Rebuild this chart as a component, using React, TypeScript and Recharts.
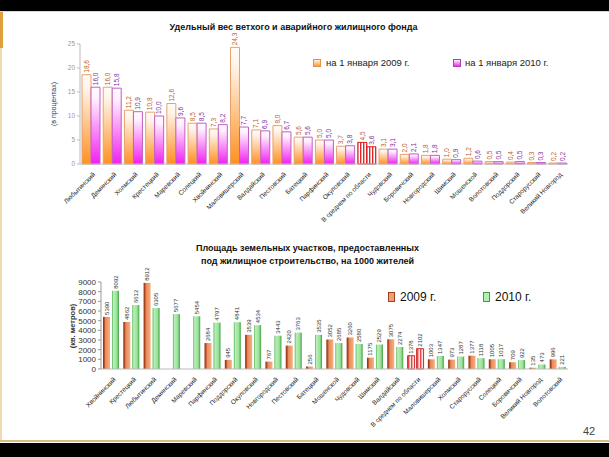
import React from 'react';
import { BarChart, Bar, XAxis, YAxis, Cell, LabelList } from 'recharts';

// chart 1: share of dilapidated housing, %
const districts1 = [
  'Любытинский', 'Демянский', 'Холмский', 'Крестецкий', 'Маревский', 'Солецкий',
  'Хвойнинский', 'Маловишерский', 'Валдайский', 'Пестовский', 'Батецкий', 'Парфинский',
  'Окуловский', 'В среднем по области', 'Чудовский', 'Боровичский', 'Новгородский',
  'Шимский', 'Мошенской', 'Волотовский', 'Поддорский', 'Старорусский', 'Великий Новгород',
];
const share2009 = [18.6, 16.0, 11.2, 10.8, 12.6, 8.5, 7.3, 24.3, 7.1, 8.0, 5.6, 5.0, 3.7, 4.5, 3.1, 2.0, 1.8, 1.0, 1.2, 0.5, 0.4, 0.3, 0.2];
const share2010 = [16.0, 15.8, 10.9, 10.0, 9.6, 8.5, 8.2, 7.7, 6.9, 6.7, 5.6, 5.0, 3.8, 3.6, 3.1, 2.1, 1.8, 0.9, 0.6, 0.5, 0.5, 0.3, 0.2];
const shareTicks = [0, 5, 10, 15, 20, 25];

// chart 2: land plots for housing, sq. m per 1000 residents
const districts2 = [
  'Хвойнинский', 'Крестецкий', 'Любытинский', 'Демянский', 'Маревский', 'Парфинский',
  'Поддорский', 'Окуловский', 'Новгородский', 'Пестовский', 'Батецкий', 'Мошенской',
  'Чудовский', 'Шимский', 'Валдайский', 'В среднем по области', 'Маловишерский',
  'Холмский', 'Старорусский', 'Солецкий', 'Боровичский', 'Великий Новгород', 'Волотовский',
];
const area2009 = [5390, 4862, 8912, 0, 0, 2684, 945, 3539, 767, 2420, 256, 3052, 3260, 1175, 3075, 1378, 1003, 973, 1377, 1005, 709, 135, 996];
const area2010 = [8092, 6612, 6305, 5677, 5454, 4797, 4841, 4534, 3443, 3763, 3535, 2685, 2580, 2529, 2274, 2102, 1347, 1287, 1118, 1017, 922, 473, 221];
const areaTicks = [0, 1000, 2000, 3000, 4000, 5000, 6000, 7000, 8000, 9000];

const AVG = 'В среднем по области';
const FONT = '"Liberation Sans", Arial, sans-serif';

const data1 = districts1.map((name, i) => ({ name, y2009: share2009[i], y2010: share2010[i] }));
const data2 = districts2.map((name, i) => ({ name, y2009: area2009[i], y2010: area2010[i] }));

const fmtComma = (v: number) => v.toFixed(1).replace('.', ',');

function XTick({ x, y, payload, size }: any) {
  return (
    <text
      transform={`translate(${x + 5},${y + 3}) rotate(-45)`}
      textAnchor="end"
      fontSize={size}
      fill="#222"
      fontFamily={FONT}
    >
      {payload.value}
    </text>
  );
}

function vertLabel(color: string, fmt: (v: number) => string, size: number) {
  return (props: any) => {
    const { x, y, width, value } = props;
    return (
      <text
        transform={`translate(${x + width / 2 + size / 2 - 1},${y - 2}) rotate(-90)`}
        fontSize={size}
        fill={color}
        fontFamily={FONT}
      >
        {fmt(value)}
      </text>
    );
  };
}

export default function App() {
  return (
    <div style={{ position: 'absolute', left: 0, top: 0, width: 609, height: 457, background: '#fff', overflow: 'hidden', fontFamily: FONT }}>
      {/* slide frame */}
      <div style={{ position: 'absolute', left: 0, top: 0, width: 609, height: 11, background: '#000' }} />
      <div style={{ position: 'absolute', left: 0, top: 11, width: 609, height: 1, background: '#e8d9a8' }} />
      <div style={{ position: 'absolute', left: 0, top: 11, width: 2, height: 430, background: '#eadcae' }} />
      <div style={{ position: 'absolute', left: 0, top: 12, width: 3, height: 36, background: '#e0a040' }} />
      <div style={{ position: 'absolute', left: 0, top: 440, width: 609, height: 2, background: '#d8c080' }} />
      <div style={{ position: 'absolute', left: 0, top: 443, width: 609, height: 14, background: '#000' }} />
      <div style={{ position: 'absolute', left: 583, top: 425, fontSize: 11, color: '#444' }}>42</div>

      {/* chart 1 */}
      <div style={{ position: 'absolute', left: 0, top: 22, width: 609, textAlign: 'center', paddingRight: 22, boxSizing: 'border-box', fontSize: 9, fontWeight: 'bold', color: '#111' }}>
        Удельный вес ветхого и аварийного жилищного фонда
      </div>
      <div style={{ position: 'absolute', left: 313, top: 57, fontSize: 9.5, color: '#222', display: 'flex', alignItems: 'center' }}>
        <span style={{ display: 'inline-block', width: 6, height: 6, marginRight: 5, border: '1px solid #e09050', background: 'linear-gradient(#fff4e8, #ff9a30)' }} />
        на 1 января 2009 г.
      </div>
      <div style={{ position: 'absolute', left: 453, top: 57, fontSize: 9.5, color: '#222', display: 'flex', alignItems: 'center' }}>
        <span style={{ display: 'inline-block', width: 6, height: 6, marginRight: 4, border: '1px solid #b040b0', background: 'linear-gradient(#fff0ff, #f030f0)' }} />
        на 1 января 2010 г.
      </div>
      <div style={{ position: 'absolute', left: 53, top: 104, transform: 'translate(-50%,-50%) rotate(-90deg)', fontSize: 7, color: '#333', whiteSpace: 'nowrap' }}>
        (в процентах)
      </div>
      <div style={{ position: 'absolute', left: 0, top: 0 }}>
        <BarChart width={609} height={240} data={data1} margin={{ top: 44, right: 41, left: 0, bottom: 0 }} barGap={0} barSize={9}>
          <defs>
            <linearGradient id="g09" x1="0" y1="0" x2="0" y2="1">
              <stop offset="0%" stopColor="#fffcf8" />
              <stop offset="15%" stopColor="#fff4ea" />
              <stop offset="100%" stopColor="#ff9020" />
            </linearGradient>
            <linearGradient id="g10" x1="0" y1="0" x2="0" y2="1">
              <stop offset="0%" stopColor="#fffaff" />
              <stop offset="15%" stopColor="#fff0ff" />
              <stop offset="100%" stopColor="#f020f0" />
            </linearGradient>
            <pattern id="stripe1" width="3" height="4" patternUnits="userSpaceOnUse">
              <rect width="3" height="4" fill="#fff" />
              <rect width="1.4" height="4" fill="#e02828" />
            </pattern>
          </defs>
          <XAxis
            dataKey="name"
            interval={0}
            height={76}
            tick={<XTick size={6.5} />}
            tickLine={false}
            axisLine={{ stroke: '#bbb' }}
          />
          <YAxis
            width={80}
            domain={[0, 25]}
            ticks={shareTicks}
            tick={{ fontSize: 6.5, fill: '#999' }}
            tickSize={3}
            tickLine={{ stroke: '#bbb' }}
            axisLine={{ stroke: '#bbb' }}
          />
          <Bar dataKey="y2009" fill="url(#g09)" stroke="#e8a070" isAnimationActive={false}>
            {data1.map((d, i) => (
              <Cell key={i} fill={d.name === AVG ? 'url(#stripe1)' : 'url(#g09)'} stroke={d.name === AVG ? '#d02020' : '#e8a070'} />
            ))}
            <LabelList dataKey="y2009" content={vertLabel('#c0602a', fmtComma, 6.5)} />
          </Bar>
          <Bar dataKey="y2010" fill="url(#g10)" stroke="#c060c0" isAnimationActive={false}>
            {data1.map((d, i) => (
              <Cell key={i} fill={d.name === AVG ? 'url(#stripe1)' : 'url(#g10)'} stroke={d.name === AVG ? '#d02020' : '#c060c0'} />
            ))}
            <LabelList dataKey="y2010" content={vertLabel('#8030a0', fmtComma, 6.5)} />
          </Bar>
        </BarChart>
      </div>

      {/* chart 2 */}
      <div style={{ position: 'absolute', left: 0, top: 242, width: 609, textAlign: 'center', paddingLeft: 6, boxSizing: 'border-box', fontSize: 9, fontWeight: 'bold', color: '#111', lineHeight: '13px' }}>
        Площадь земельных участков, предоставленных
        <br />
        под жилищное строительство, на 1000 жителей
      </div>
      <div style={{ position: 'absolute', left: 388, top: 290, fontSize: 12, color: '#111', display: 'flex', alignItems: 'center' }}>
        <span style={{ display: 'inline-block', width: 5, height: 8, marginRight: 5, border: '1px solid #a04020', background: '#f0a070' }} />
        2009 г.
      </div>
      <div style={{ position: 'absolute', left: 483, top: 290, fontSize: 12, color: '#111', display: 'flex', alignItems: 'center' }}>
        <span style={{ display: 'inline-block', width: 5, height: 8, marginRight: 5, border: '1px solid #40a040', background: '#b0f0b0' }} />
        2010 г.
      </div>
      <div style={{ position: 'absolute', left: 72, top: 326, transform: 'translate(-50%,-50%) rotate(-90deg)', fontSize: 7.5, fontWeight: 'bold', color: '#333', whiteSpace: 'nowrap' }}>
        (кв. метров)
      </div>
      <div style={{ position: 'absolute', left: 0, top: 240 }}>
        <BarChart width={609} height={205} data={data2} margin={{ top: 42, right: 41, left: 0, bottom: 0 }} barGap={2} barSize={7}>
          <defs>
            <linearGradient id="o09" x1="0" y1="0" x2="1" y2="0">
              <stop offset="0%" stopColor="#8a2a10" />
              <stop offset="25%" stopColor="#c85a30" />
              <stop offset="35%" stopColor="#e88a5a" />
              <stop offset="100%" stopColor="#f4b080" />
            </linearGradient>
            <linearGradient id="n10" x1="0" y1="0" x2="1" y2="0">
              <stop offset="0%" stopColor="#50b050" />
              <stop offset="20%" stopColor="#b8f0b8" />
              <stop offset="70%" stopColor="#98e098" />
              <stop offset="100%" stopColor="#40a040" />
            </linearGradient>
            <pattern id="stripe2" width="3" height="4" patternUnits="userSpaceOnUse">
              <rect width="3" height="4" fill="#ffe0e0" />
              <rect width="1.4" height="4" fill="#e84848" />
            </pattern>
          </defs>
          <XAxis
            dataKey="name"
            interval={0}
            height={76}
            tick={<XTick size={6.5} />}
            tickLine={false}
            axisLine={{ stroke: '#bbb' }}
          />
          <YAxis
            width={101}
            domain={[0, 9000]}
            ticks={areaTicks}
            interval={0}
            tick={{ fontSize: 8, fill: '#333' }}
            tickSize={3}
            tickLine={{ stroke: '#999' }}
            axisLine={{ stroke: '#999' }}
          />
          <Bar dataKey="y2009" fill="url(#o09)" isAnimationActive={false}>
            {data2.map((d, i) => (
              <Cell key={i} fill={d.name === AVG ? 'url(#stripe2)' : 'url(#o09)'} stroke={d.name === AVG ? '#d03030' : 'none'} />
            ))}
            <LabelList dataKey="y2009" content={vertLabel('#333', (v) => String(v), 6)} />
          </Bar>
          <Bar dataKey="y2010" fill="url(#n10)" isAnimationActive={false}>
            {data2.map((d, i) => (
              <Cell key={i} fill={d.name === AVG ? 'url(#stripe2)' : 'url(#n10)'} stroke={d.name === AVG ? '#d03030' : 'none'} />
            ))}
            <LabelList dataKey="y2010" content={vertLabel('#333', (v) => String(v), 6)} />
          </Bar>
        </BarChart>
      </div>
    </div>
  );
}
